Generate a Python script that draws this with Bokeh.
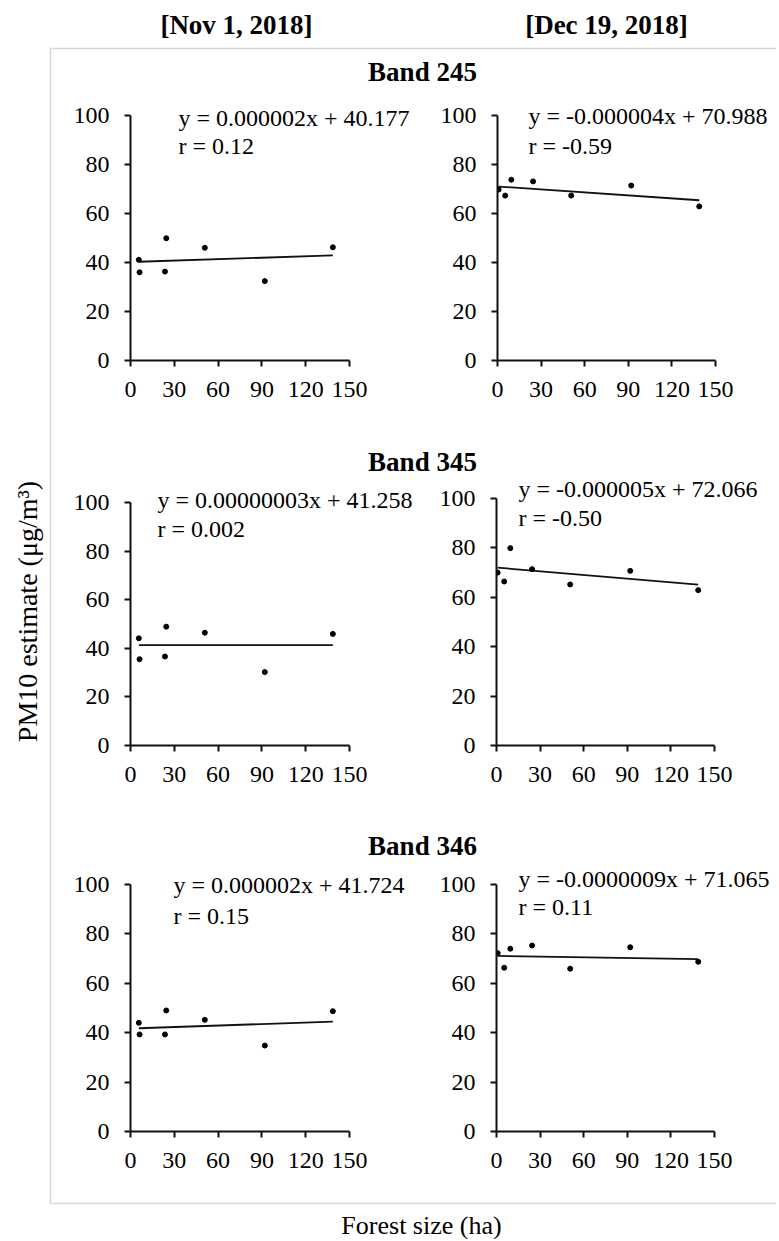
import math
from bokeh.plotting import figure
from bokeh.models import Range1d, FixedTicker, Label, BoxAnnotation
from bokeh.layouts import row, column
from bokeh.embed import file_html
from bokeh.resources import INLINE

FONT = "Liberation Serif"

# ---------------- data ----------------
dates = ["[Nov 1, 2018]", "[Dec 19, 2018]"]
bands = ["Band 245", "Band 345", "Band 346"]
x_ticks = [0, 30, 60, 90, 120, 150]
y_ticks = [0, 20, 40, 60, 80, 100]
x_title = "Forest size (ha)"
y_title = "PM10 estimate (μg/m³)"

forest_nov = [5.7, 6.2, 24.5, 23.6, 50.9, 92.0, 138.6]
forest_dec = [0.8, 5.3, 9.5, 24.5, 50.7, 92.0, 138.8]

b245_nov = [41.1, 36.0, 49.9, 36.3, 46.0, 32.4, 46.2]
b245_dec = [69.8, 67.3, 73.8, 73.1, 67.3, 71.4, 62.9]
b345_nov = [44.1, 35.5, 48.9, 36.6, 46.4, 30.2, 45.9]
b345_dec = [70.0, 66.4, 79.9, 71.4, 65.2, 70.7, 62.9]
b346_nov = [44.0, 39.3, 49.0, 39.3, 45.2, 34.8, 48.7]
b346_dec = [72.2, 66.3, 74.0, 75.3, 65.9, 74.6, 68.7]

# fitted trend lines (start / end of each regression line)
trend_nov_x = [5.7, 138.6]
trend_dec_x = [0.8, 138.8]
t245_nov = [40.3, 42.9]
t245_dec = [71.0, 65.4]
t345_nov = [41.26, 41.3]
t345_dec = [72.0, 65.1]
t346_nov = [41.8, 44.5]
t346_dec = [71.1, 69.8]

eq_245 = ["y = 0.000002x + 40.177", "y = -0.000004x + 70.988"]
r_245 = ["r = 0.12", "r = -0.59"]
eq_345 = ["y = 0.00000003x + 41.258", "y = -0.000005x + 72.066"]
r_345 = ["r = 0.002", "r = -0.50"]
eq_346 = ["y = 0.000002x + 41.724", "y = -0.0000009x + 71.065"]
r_346 = ["r = 0.15", "r = 0.11"]

# ---------------- layout (page px) ----------------
W, H = 776, 1239
INK = "#111111"
BOX = "#777777"
LEFT_W = 52          # strip holding the y title and the box's left edge
SPLIT = 432          # x where left/right panel figures meet
BOX_L, BOX_T, BOX_B = 50, 48, 1203

# vertical bands: top strip, row1, band strip, row2, band strip, row3, bottom strip
Y = [0, 100, 444, 477, 808, 862, 1188, H]


def strip(x0, x1, y0, y1):
    f = figure(width=x1 - x0, height=y1 - y0, x_range=Range1d(x0, x1),
               y_range=Range1d(y1, y0), min_border=0, title=None,
               x_axis_type=None, y_axis_type=None, toolbar_location=None,
               output_backend="svg", outline_line_color=None)
    f.add_layout(BoxAnnotation(left=BOX_L, right=W + 40, top=BOX_T, bottom=BOX_B,
                               fill_alpha=0, line_color=BOX, line_width=1.5))
    return f


def lab(f, x, y, text, size, bold=False, align="left", angle=0):
    # y is the visual centre of the text line
    f.add_layout(Label(x=x, y=y, text=text, text_font=FONT,
                       text_font_size=f"{size}px",
                       text_font_style="bold" if bold else "normal",
                       text_align=align, text_baseline="middle",
                       text_color="black", angle=angle))


# left strip: y title + left edge of the box
left = strip(0, LEFT_W, 0, H)
lab(left, 27, 611, y_title, 28, align="center", angle=math.pi / 2)

top = strip(LEFT_W, W, Y[0], Y[1])
lab(top, 236, 24.5, dates[0], 27, bold=True, align="center")
lab(top, 606, 24.5, dates[1], 27, bold=True, align="center")
lab(top, 422, 71.5, bands[0], 27, bold=True, align="center")

bandA = strip(LEFT_W, W, Y[2], Y[3])
lab(bandA, 422, 461.5, bands[1], 27, bold=True, align="center")

bandB = strip(LEFT_W, W, Y[4], Y[5])
lab(bandB, 422, 845, bands[2], 27, bold=True, align="center")

bottom = strip(LEFT_W, W, Y[6], Y[7])
lab(bottom, 421, 1225, x_title, 26, align="center")

# panel frames in page px: left, top, width, height (0..150 by 0..100)
frames = [
    [(130, 115, 219, 245), (497, 115, 218, 245)],
    [(130, 502, 219, 244), (496, 498, 218, 247)],
    [(130, 884, 219, 247), (496, 884, 218, 247)],
]
# equation text: (left x, centre of line 1, centre of line 2) in page px
eq_pos = [
    [(178, 117.5, 145.5), (528, 115.0, 145.0)],
    [(157, 500.0, 529.0), (518, 488.5, 517.5)],
    [(173, 884.2, 915.8), (518, 878.3, 906.7)],
]
series = [[b245_nov, b245_dec], [b345_nov, b345_dec], [b346_nov, b346_dec]]
trends = [[t245_nov, t245_dec], [t345_nov, t345_dec], [t346_nov, t346_dec]]
eqs = [eq_245, eq_345, eq_346]
rs = [r_245, r_345, r_346]
xs_all = [forest_nov, forest_dec]
txs = [trend_nov_x, trend_dec_x]


def panel(i, j):
    fl, ft, fw, fh = frames[i][j]
    fb = ft + fh
    x0 = LEFT_W if j == 0 else SPLIT
    x1 = SPLIT if j == 0 else W
    y0, y1 = Y[1 + 2 * i], Y[2 + 2 * i]
    # frame reaches the figure's right and top edges so texts are not clipped;
    # the axes themselves are bounded to 0..150 and 0..100
    p = figure(width=x1 - x0, height=y1 - y0,
               min_border_left=fl - x0, min_border_right=0,
               min_border_top=0, min_border_bottom=y1 - fb,
               x_range=Range1d(0, 150.0 * (x1 - fl) / fw),
               y_range=Range1d(0, 100.0 * (fb - y0) / fh), title=None,
               toolbar_location=None, output_backend="svg",
               outline_line_color=None)
    p.grid.visible = False
    p.xaxis.ticker = FixedTicker(ticks=x_ticks)
    p.yaxis.ticker = FixedTicker(ticks=y_ticks)
    p.xaxis.bounds = (0, 150)
    p.yaxis.bounds = (0, 100)
    for ax in (p.xaxis, p.yaxis):
        ax.axis_line_color = INK
        ax.axis_line_width = 2
        ax.major_tick_line_color = INK
        ax.major_tick_line_width = 2
        ax.major_tick_in = 0
        ax.major_tick_out = 6
        ax.minor_tick_line_color = None
        ax.major_label_text_font = FONT
        ax.major_label_text_font_size = "24px"
        ax.major_label_text_color = "black"
    p.xaxis.major_label_standoff = 15
    p.yaxis.major_label_standoff = 15

    p.line(txs[j], trends[i][j], line_color=INK, line_width=1.8)
    p.scatter(xs_all[j], series[i][j], size=5, fill_color="black", line_color="black")

    # equation labels: page px -> this panel's data units
    def to_data(cx, cy):
        return (cx - fl) / fw * 150.0, (fb - cy) / fh * 100.0

    ex, c1, c2 = eq_pos[i][j]
    for txt, cy in ((eqs[i][j], c1), (rs[i][j], c2)):
        dx, dy = to_data(ex, cy)
        lab(p, dx, dy, txt, 24)
    return p


rows = [row(panel(i, 0), panel(i, 1), spacing=0) for i in range(3)]
right = column(top, rows[0], bandA, rows[1], bandB, rows[2], bottom, spacing=0)
root = row(left, right, spacing=0)

open("out.html", "w").write(file_html(root, INLINE))
